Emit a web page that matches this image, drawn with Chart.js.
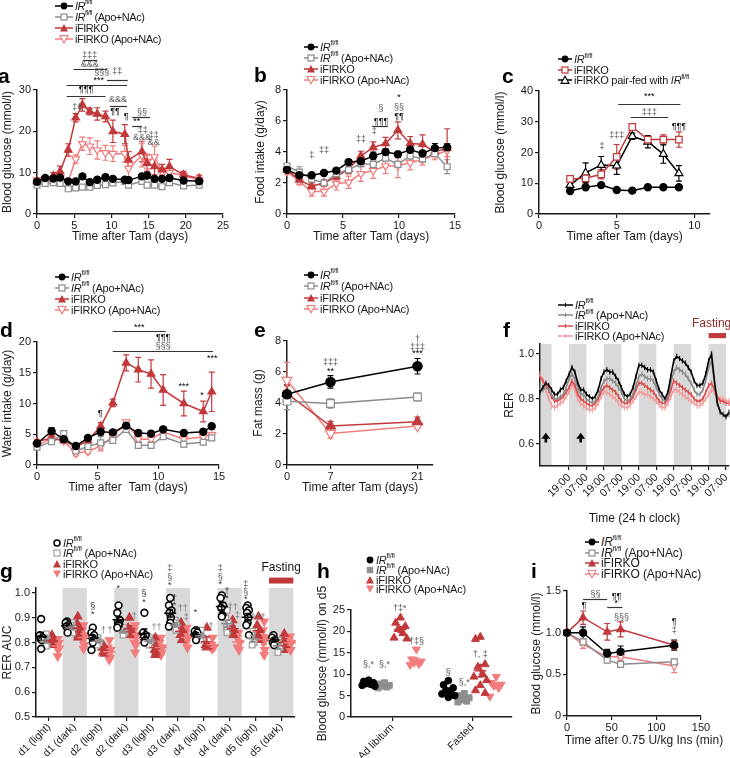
<!DOCTYPE html>
<html>
<head>
<meta charset="utf-8">
<title>Figure</title>
<script src="https://cdn.jsdelivr.net/npm/chart.js@4.4.1/dist/chart.umd.min.js"></script>
<style>
  body { margin: 0; background: #fff; }
  #fig { position: relative; width: 730px; height: 758px; overflow: hidden; background: #fff;
         font-family: 'Liberation Sans', Arial, Helvetica, sans-serif; color: #1a1a1a; }
  #fig canvas { position: absolute; }
  .tag { position: absolute; font-weight: bold; font-size: 21px; line-height: 20px; color: #000; }
  .lg { position: absolute; height: 12px; display: flex; align-items: center; white-space: nowrap; z-index: 2; }
  .lg svg { margin-right: 2px; flex: none; }
  .lg sup { font-size: 7px; line-height: 0; position: relative; top: -1px; vertical-align: super; }
</style>
</head>
<body>
<div id="fig"></div>
<script>
// ---------- a: blood glucose after tamoxifen ----------
const aDays = [0, 1.1, 2.2, 3.1, 4.2, 5.2, 6.1, 7.1, 8.1, 9.2, 10.2, 11.8, 12.3, 14.1, 14.8, 15.8, 16.8, 17.8, 19.7, 21.8];
const aIR = [7.8, 8.7, 8.6, 8.8, 7.9, 7.9, 9.1, 7.7, 8.3, 8.9, 8.5, 8.3, 8.2, 9.1, 9.3, 8.5, 8.5, 8.7, 8.1, 7.9];
const aIRErr = [0.4, 0.4, 0.4, 0.5, 0.4, 0.4, 0.5, 0.4, 0.4, 0.6, 0.4, 0.4, 0.4, 0.5, 0.5, 0.4, 0.4, 0.4, 0.4, 0.4];
const aIRApo = [7.0, 7.4, 7.6, 7.4, 6.1, 6.3, 6.5, 6.5, 6.9, 7.1, 7.5, 7.9, 7.0, 7.9, 7.0, 7.0, 6.6, 7.6, 6.8, 7.0];
const aIRApoErr = [0.3, 0.3, 0.3, 0.3, 0.3, 0.3, 0.3, 0.3, 0.3, 0.3, 0.3, 0.3, 0.3, 0.3, 0.3, 0.3, 0.3, 0.3, 0.3, 0.3];
const aKO = [7.9, 8.5, 9.2, 10.3, 15.5, 23.3, 26.4, 24.8, 24.2, 23.6, 20.0, 19.3, 13.1, 15.1, 12.3, 11.5, 10.7, 11.5, 9.5, 8.6];
const aKOErr = [0.5, 0.6, 0.8, 1.3, 1.5, 1.0, 1.5, 0.8, 1.5, 1.3, 2.7, 2.3, 2.0, 2.5, 2.0, 2.0, 1.3, 1.7, 0.8, 0.8];
const aKOApo = [8.2, 8.3, 8.5, 8.8, 7.9, 13.3, 17.0, 16.4, 15.5, 14.8, 14.6, 14.6, 11.0, 14.2, 12.7, 13.8, 10.2, 10.0, 9.3, 8.2];
const aKOApoErr = [0.4, 0.5, 0.5, 0.6, 0.4, 1.0, 1.6, 2.0, 2.2, 1.8, 1.9, 2.0, 2.0, 2.8, 1.8, 2.6, 0.8, 1.3, 0.8, 0.6];
const aNotes = [
  [7.1, 38.3, '‡‡‡', '#555'], [7.1, 36.2, '&&&', '#555'], [8.7, 34.3, '§§§', '#555'], [10.8, 34.5, '‡‡', '#555'],
  [8.3, 32.3, '***', '#000'], [6.6, 30.0, '¶¶¶', '#000'], [5.4, 25.7, '‡‡', '#555'], [10.9, 27.6, '&&&', '#555'],
  [10.5, 24.7, '¶¶', '#000'], [12.0, 23.5, '¶', '#000'], [14.1, 24.5, '§§', '#555'], [13.4, 22.3, '**', '#000'],
  [14.2, 20.3, '‡‡', '#555'], [14.1, 18.6, '&&&', '#555'], [15.7, 19.1, '‡‡', '#555'], [15.7, 17.4, '&&', '#555']
];
const aLines = [[6.2, 8.1, 37.2], [4.9, 9.4, 35.0], [4.0, 12.1, 31.2], [9.4, 12.2, 32.4], [4.0, 9.2, 28.6],
  [9.8, 12.1, 26.1], [12.8, 15.2, 23.5], [12.8, 14.1, 21.3]];

// ---------- b: food intake ----------
const bDays = [0, 1.1, 2.2, 3.3, 4.4, 5.5, 6.6, 7.7, 8.8, 9.9, 11.0, 12.1, 13.2, 14.3];
const bIR = [2.85, 2.5, 2.5, 2.65, 2.8, 3.35, 3.4, 3.75, 4.0, 3.85, 4.15, 3.9, 4.25, 4.3];
const bIRErr = [0.15, 0.15, 0.12, 0.12, 0.15, 0.15, 0.2, 0.25, 0.2, 0.2, 0.2, 0.2, 0.3, 0.25];
const bIRApo = [3.1, 2.7, 2.25, 2.0, 2.6, 2.85, 3.25, 3.2, 3.6, 3.2, 3.75, 3.55, 3.9, 3.05];
const bIRApoErr = [0.15, 0.35, 0.15, 0.15, 0.25, 0.25, 0.2, 0.2, 0.2, 0.2, 0.2, 0.2, 0.2, 0.45];
const bKO = [2.85, 2.2, 1.8, 2.0, 2.4, 2.9, 3.75, 4.3, 4.55, 5.4, 4.55, 4.5, 4.0, 4.25];
const bKOErr = [0.15, 0.15, 0.2, 0.2, 0.2, 0.3, 0.3, 0.35, 0.4, 0.55, 0.45, 0.6, 0.3, 1.25];
const bKOApo = [2.75, 2.1, 1.45, 1.45, 1.95, 2.05, 2.6, 2.8, 3.1, 3.1, 3.3, 3.5, 3.8, 4.1];
const bKOApoErr = [0.2, 0.2, 0.3, 0.3, 0.4, 0.4, 0.5, 0.5, 0.5, 0.75, 0.45, 0.35, 0.3, 0.4];
const bNotes = [[2.2, 3.8, '‡', '#555'], [3.3, 4.1, '‡‡', '#555'], [6.6, 4.8, '‡‡', '#555'], [7.8, 5.35, '‡', '#555'],
  [8.4, 5.95, '¶¶¶', '#000'], [8.4, 6.8, '§', '#555'], [10.0, 7.5, '*', '#000'], [10.0, 6.85, '§§', '#555'], [10.0, 6.3, '¶¶', '#000']];
const bLines = [[7.6, 9.0, 5.7]];

// ---------- c: pair-feeding ----------
const cDays = [2, 3, 4, 5, 6, 7, 8, 9];
const cIR = [7.5, 8.7, 9.4, 7.8, 7.6, 8.7, 8.7, 8.7];
const cIRErr = [0.5, 0.5, 0.6, 0.4, 0.4, 0.5, 0.5, 0.5];
const cKO = [11.4, 11.6, 12.9, 18.6, 28.3, 24.2, 24.2, 24.2];
const cKOErr = [0.5, 1.5, 1.5, 4.0, 1.0, 1.0, 1.5, 2.5];
const cPair = [9.4, 13.4, 15.9, 15.7, 25.3, 23.5, 19.5, 13.2];
const cPairErr = [1.0, 3.2, 2.8, 2.8, 1.0, 2.0, 3.0, 2.5];
const cNotes = [[7.1, 38.1, '***', '#000'], [7.1, 32.9, '‡‡‡', '#555'], [5.0, 25.6, '‡‡‡', '#555'], [4.05, 21.8, '‡', '#555'], [9.0, 28.6, '¶¶¶', '#000']];
const cLines = [[5.1, 9.1, 35.7], [5.9, 8.3, 31.4]];

// ---------- d: water intake ----------
const dDays = [0, 1.2, 2.2, 3.2, 4.2, 5.25, 6.25, 7.35, 8.35, 9.4, 10.4, 12.1, 13.7, 14.4];
const dIR = [3.5, 5.5, 4.2, 3.1, 4.4, 5.4, 5.3, 6.4, 5.2, 5.1, 5.8, 5.2, 5.4, 6.3];
const dIRErr = [0.4, 0.6, 0.5, 0.4, 0.4, 0.5, 0.4, 0.4, 0.4, 0.4, 0.4, 0.4, 0.4, 0.4];
const dIRApo = [2.9, 3.8, 5.1, 2.3, 3.0, 3.6, 4.0, 5.8, 3.2, 3.2, 4.6, 3.4, 3.7, 4.4];
const dIRApoErr = [0.4, 0.4, 0.5, 0.4, 0.4, 1.0, 0.5, 0.4, 0.4, 0.4, 0.4, 0.4, 0.4, 0.4];
const dKO = [3.8, 4.4, 4.0, 2.9, 4.0, 6.3, 10.1, 16.6, 15.5, 14.8, 12.2, 10.0, 8.7, 11.9];
const dKOErr = [0.3, 0.4, 0.4, 0.3, 0.4, 0.6, 0.6, 1.3, 2.0, 2.3, 2.5, 2.0, 1.7, 3.2];
const dKOApo = [3.2, 4.3, 3.9, 1.9, 2.2, 3.1, 4.6, 7.0, 4.2, 4.2, 5.4, 4.2, 4.6, 4.9];
const dKOApoErr = [0.4, 0.4, 0.4, 0.4, 0.4, 0.8, 0.4, 0.4, 0.4, 0.4, 0.4, 0.4, 0.4, 0.4];
const dNotes = [[8.43, 22.4, '***', '#000'], [10.4, 20.7, '¶¶¶', '#000'], [10.4, 19.2, '§§§', '#555'], [5.2, 8.3, '¶', '#000'],
  [12.1, 12.8, '***', '#000'], [13.6, 11.3, '*', '#000'], [14.45, 17.3, '***', '#000']];
const dLines = [[6.24, 10.6, 21.8], [6.24, 14.5, 18.6]];

// ---------- e: fat mass ----------
const eDays = [0, 7, 21];
const eIR = [4.57, 5.36, 6.37], eIRErr = [0.6, 0.4, 0.5];
const eIRApo = [4.12, 3.97, 4.39], eIRApoErr = [0.55, 0.3, 0.25];
const eKO = [4.61, 2.51, 2.79], eKOErr = [0.5, 0.3, 0.3];
const eKOApo = [5.47, 2.04, 2.51], eKOApoErr = [1.15, 0.3, 0.15];
const eNotes = [[7, 6.6, '‡‡‡', '#555'], [7, 6.05, '**', '#000'], [21, 8.1, '†', '#555'], [21, 7.57, '‡‡‡', '#555'], [21, 7.2, '***', '#000']];

// ---------- f: RER trace, one value every 2 h ----------
const rerIR = [0.83, 0.85, 0.87, 0.86, 0.84, 0.82, 0.82, 0.84, 0.85, 0.88,
  0.91, 0.94, 0.92, 0.87, 0.84, 0.84, 0.82, 0.81, 0.80, 0.81,
  0.84, 0.89, 0.92, 0.93, 0.92, 0.92, 0.90, 0.88, 0.85, 0.82,
  0.81, 0.82, 0.85, 0.90, 0.95, 0.95, 0.94, 0.93, 0.93, 0.92,
  0.88, 0.84, 0.82, 0.80, 0.83, 0.90, 0.97, 0.99, 0.98, 0.97,
  0.96, 0.94, 0.92, 0.88, 0.86, 0.86, 0.87, 0.91, 0.97, 1.00,
  0.88, 0.78, 0.74, 0.73, 0.72, 0.74];
const rerIRApo = [0.85, 0.84, 0.85, 0.84, 0.82, 0.80, 0.80, 0.81, 0.82, 0.85,
  0.89, 0.91, 0.89, 0.85, 0.82, 0.82, 0.80, 0.79, 0.78, 0.79,
  0.81, 0.85, 0.88, 0.89, 0.89, 0.88, 0.87, 0.85, 0.83, 0.80,
  0.79, 0.80, 0.82, 0.86, 0.90, 0.91, 0.90, 0.89, 0.89, 0.88,
  0.85, 0.82, 0.80, 0.79, 0.81, 0.87, 0.92, 0.94, 0.93, 0.92,
  0.91, 0.89, 0.87, 0.84, 0.82, 0.82, 0.84, 0.88, 0.94, 0.97,
  0.87, 0.78, 0.74, 0.73, 0.72, 0.73];
const rerKO = [0.90, 0.88, 0.86, 0.84, 0.81, 0.79, 0.79, 0.80, 0.81, 0.83,
  0.85, 0.88, 0.86, 0.82, 0.80, 0.79, 0.78, 0.77, 0.77, 0.78,
  0.80, 0.83, 0.85, 0.86, 0.85, 0.84, 0.83, 0.81, 0.79, 0.78,
  0.78, 0.79, 0.81, 0.84, 0.87, 0.87, 0.86, 0.85, 0.84, 0.83,
  0.81, 0.79, 0.78, 0.78, 0.80, 0.84, 0.88, 0.87, 0.86, 0.85,
  0.84, 0.83, 0.82, 0.80, 0.79, 0.79, 0.80, 0.83, 0.86, 0.87,
  0.84, 0.81, 0.79, 0.79, 0.78, 0.78];
const rerKOApo = [0.91, 0.88, 0.84, 0.80, 0.77, 0.76, 0.77, 0.78, 0.79, 0.81,
  0.83, 0.87, 0.84, 0.80, 0.78, 0.77, 0.76, 0.75, 0.75, 0.76,
  0.78, 0.81, 0.83, 0.83, 0.82, 0.81, 0.80, 0.78, 0.77, 0.76,
  0.76, 0.77, 0.79, 0.81, 0.83, 0.83, 0.82, 0.82, 0.81, 0.80,
  0.79, 0.77, 0.76, 0.76, 0.78, 0.81, 0.84, 0.84, 0.83, 0.82,
  0.81, 0.80, 0.79, 0.78, 0.77, 0.77, 0.78, 0.80, 0.82, 0.84,
  0.83, 0.81, 0.80, 0.80, 0.79, 0.79];
const rerSem = [0.012, 0.013, 0.012, 0.014];
const fDark = [[0, 8], [20, 32], [44, 56], [68, 80], [92, 104], [116, 128]];
const fTickHours = [20, 32, 44, 56, 68, 80, 92, 104, 116, 128];
const fTickLabels = ['19:00', '07:00', '19:00', '07:00', '19:00', '07:00', '19:00', '07:00', '19:00', '07:00'];
const fArrows = [[4, 0.605, 0.648], [28, 0.605, 0.648]];

// ---------- g: RER AUC per period ----------
const gCats = ['d1 (light)', 'd1 (dark)', 'd2 (light)', 'd2 (dark)', 'd3 (light)', 'd3 (dark)', 'd4 (light)', 'd4 (dark)', 'd5 (light)', 'd5 (dark)'];
const gIR = [[0.895, 0.83, 0.82, 0.815, 0.81, 0.775], [0.885, 0.88, 0.87, 0.865, 0.84], [0.86, 0.84, 0.83, 0.82, 0.81, 0.80, 0.77],
  [0.95, 0.92, 0.89, 0.88, 0.875, 0.87, 0.86], [0.92, 0.84, 0.83, 0.82, 0.81, 0.80], [0.98, 0.95, 0.93, 0.92, 0.90, 0.88, 0.865],
  [0.85, 0.845, 0.84, 0.83, 0.82, 0.81], [0.99, 0.98, 0.95, 0.94, 0.91, 0.905], [0.95, 0.94, 0.93, 0.92, 0.90, 0.88, 0.87, 0.83],
  [0.83, 0.82, 0.81, 0.80, 0.79]];
const gIRApo = [[0.835, 0.82, 0.81, 0.80, 0.79, 0.785], [0.88, 0.87, 0.86, 0.85, 0.84], [0.82, 0.81, 0.80, 0.79],
  [0.86, 0.85, 0.84, 0.83], [0.82, 0.81, 0.80, 0.79], [0.89, 0.88, 0.87, 0.86, 0.85], [0.85, 0.83, 0.82, 0.81],
  [0.93, 0.90, 0.88, 0.86, 0.85, 0.84], [0.845, 0.83, 0.80, 0.79], [0.81, 0.80, 0.78, 0.76]];
const gKO = [[0.83, 0.82, 0.81, 0.80, 0.795, 0.79], [0.905, 0.88, 0.86, 0.85, 0.83, 0.82], [0.79, 0.78, 0.77, 0.76, 0.755],
  [0.90, 0.86, 0.85, 0.84, 0.83], [0.82, 0.80, 0.78, 0.77, 0.76, 0.75], [0.88, 0.86, 0.85, 0.83, 0.81], [0.86, 0.79, 0.785, 0.78],
  [0.89, 0.87, 0.85, 0.84, 0.83], [0.905, 0.87, 0.85, 0.83, 0.82, 0.81], [0.835, 0.81, 0.79, 0.77]];
const gKOApo = [[0.815, 0.81, 0.80, 0.78, 0.77, 0.745], [0.87, 0.85, 0.83, 0.81, 0.79, 0.775], [0.81, 0.78, 0.77, 0.75, 0.74, 0.73],
  [0.87, 0.85, 0.83, 0.80, 0.79, 0.76], [0.82, 0.80, 0.78, 0.77, 0.76, 0.75], [0.86, 0.84, 0.82, 0.80, 0.78], [0.82, 0.79, 0.78, 0.775],
  [0.84, 0.82, 0.80, 0.78, 0.77], [0.885, 0.85, 0.82, 0.80, 0.77, 0.75], [0.825, 0.81, 0.80, 0.79, 0.77]];
const gNotes = [[1.7, 0.945, '§', '#333'], [1.7, 0.915, '*', '#333'], [2.12, 0.848, '†', '#777'], [2.37, 0.848, '†', '#777'],
  [2.69, 1.016, '*', '#333'], [3.31, 0.905, '†', '#777'],
  [3.68, 0.997, '§', '#333'], [3.68, 0.962, '*', '#333'], [4.17, 0.862, '††', '#777'],
  [4.68, 1.097, '‡', '#555'], [4.68, 1.064, '§', '#555'], [4.68, 1.029, '*', '#333'], [4.87, 0.979, '†', '#333'], [4.87, 0.948, '*', '#333'],
  [5.19, 0.939, '††', '#777'], [5.32, 0.902, '‡', '#777'],
  [5.68, 0.921, '*', '#333'], [6.28, 0.864, '†', '#777'],
  [6.64, 1.097, '‡', '#555'], [6.64, 1.064, '§', '#555'], [6.64, 1.033, '*', '#333'], [6.9, 1.006, '†', '#333'], [6.9, 0.979, '*', '#333'],
  [7.12, 0.943, '††', '#777'], [7.3, 0.908, '‡', '#777'],
  [7.63, 1.034, '‡', '#555'], [7.63, 1.0, '§', '#555'], [7.63, 0.973, '*', '#333'], [8.1, 0.9, '†††', '#777']];

// ---------- h: blood glucose on d5 ----------
const hCats = ['Ad libitum', 'Fasted'];
const hIR = [[8.6, 8.3, 8.0, 7.8, 7.6, 7.4, 7.2], [8.5, 7.5, 6.8, 6.2, 5.8, 5.4, 5.0, 4.6]];
const hIRApo = [[8.0, 7.7, 7.4, 7.2, 7.0, 6.8], [5.5, 5.0, 4.5, 4.0, 3.7, 3.5]];
const hKO = [[23.2, 22.0, 21.2, 20.5, 19.6, 18.5, 18.3], [18.7, 18.2, 12.3, 11.7, 10.0, 9.4, 8.6, 7.4, 6.2, 5.6]];
const hKOApo = [[15.8, 13.5, 13.0, 12.7, 12.4, 12.2], [9.4, 8.0, 7.6, 7.3, 6.8, 4.8]];
const hNotes = [[0.7, 12.3, '§,*', '#555'], [0.9, 12.3, '§,*', '#555'], [1.09, 25.4, '†‡*', '#555'], [1.3, 17.6, '†‡§', '#555'],
  [1.7, 10.3, '§', '#555'], [1.9, 8.0, '§,*', '#555'], [2.1, 14.7, '†, ‡', '#555']];

// ---------- i: insulin tolerance ----------
const iMin = [0, 18, 45, 60, 120];
const iIR = [1.0, 1.0, 0.75, 0.77, 0.85], iIRErr = [0, 0.07, 0.05, 0.07, 0.06];
const iIRApo = [1.0, 0.89, 0.67, 0.62, 0.65], iIRApoErr = [0, 0.04, 0.03, 0.03, 0.03];
const iKO = [1.0, 1.18, 1.01, 1.04, 0.85], iKOErr = [0, 0.08, 0.1, 0.09, 0.05];
const iKOApo = [1.0, 0.86, 0.71, 0.71, 0.60], iKOApoErr = [0, 0.05, 0.05, 0.04, 0.08];
const iNotes = [[32, 1.46, '§§', '#555'], [55.5, 1.43, '¶¶', '#000'], [55, 1.35, '*', '#000'], [61, 1.18, '§§§', '#555'],
  [19, 1.32, '¶', '#000'], [120, 1.13, '¶', '#000'], [120, 1.02, '‡', '#555']];
const iLines = [[18, 45, 1.41], [45, 62, 1.31]];

// ---------------------------------------------------------------
const INK = '#1a1a1a';
const BLACK = '#000', GREY = '#8c8c8c', RED = '#c1393b', PINK = '#f27c7c';
const FONT = "'Liberation Sans', Arial, Helvetica, sans-serif";
Chart.defaults.font.family = FONT;
Chart.defaults.color = INK;

const fig = document.getElementById('fig');

const extras = {
  id: 'extras',
  beforeDraw(chart, args, o) {
    const {ctx, chartArea: ca, scales: {x}} = chart;
    ctx.save();
    ctx.fillStyle = '#d9d9d9';
    (o.bands || []).forEach(([x1, x2]) => {
      const p1 = Math.max(x.getPixelForValue(x1), ca.left + 1);
      const p2 = Math.min(x.getPixelForValue(x2), ca.right);
      ctx.fillRect(p1, ca.top, p2 - p1, ca.bottom - ca.top);
    });
    ctx.restore();
  },
  beforeDatasetsDraw(chart) {
    const {ctx, scales: {y}} = chart;
    chart.data.datasets.forEach((ds, i) => {
      if (ds.errs === undefined) return;
      const meta = chart.getDatasetMeta(i);
      const cap = ds.errCap === undefined ? 3 : ds.errCap;
      ctx.save();
      ctx.strokeStyle = ds.errColor || ds.borderColor;
      ctx.lineWidth = ds.errWidth || 1.2;
      ctx.beginPath();
      meta.data.forEach((pt, j) => {
        const e = Array.isArray(ds.errs) ? ds.errs[j] : ds.errs;
        if (!e) return;
        const v = ds.data[j].y;
        const y1 = y.getPixelForValue(v + e), y2 = y.getPixelForValue(v - e);
        ctx.moveTo(pt.x, y1); ctx.lineTo(pt.x, y2);
        if (cap) {
          ctx.moveTo(pt.x - cap, y1); ctx.lineTo(pt.x + cap, y1);
          ctx.moveTo(pt.x - cap, y2); ctx.lineTo(pt.x + cap, y2);
        }
      });
      ctx.stroke();
      ctx.restore();
    });
  },
  afterDatasetsDraw(chart, args, o) {
    const {ctx, scales: {x, y}} = chart;
    (o.means || []).forEach(([xv, m, s, color]) => {
      const px = x.getPixelForValue(xv), w = 6;
      ctx.save();
      ctx.strokeStyle = color; ctx.lineWidth = 1.5;
      ctx.beginPath();
      ctx.moveTo(px - w, y.getPixelForValue(m)); ctx.lineTo(px + w, y.getPixelForValue(m));
      ctx.moveTo(px, y.getPixelForValue(m + s)); ctx.lineTo(px, y.getPixelForValue(m - s));
      ctx.moveTo(px - 3, y.getPixelForValue(m + s)); ctx.lineTo(px + 3, y.getPixelForValue(m + s));
      ctx.moveTo(px - 3, y.getPixelForValue(m - s)); ctx.lineTo(px + 3, y.getPixelForValue(m - s));
      ctx.stroke();
      ctx.restore();
    });
  },
  afterDraw(chart, args, o) {
    const {ctx, chartArea: ca, scales: {x, y}} = chart;
    ctx.save();
    ctx.lineWidth = 1.2;
    ctx.strokeStyle = '#333';
    (o.lines || []).forEach(([x1, x2, yv]) => {
      const py = Math.round(y.getPixelForValue(yv)) + 0.5;
      ctx.beginPath(); ctx.moveTo(x.getPixelForValue(x1), py); ctx.lineTo(x.getPixelForValue(x2), py); ctx.stroke();
    });
    ctx.textAlign = 'center'; ctx.textBaseline = 'middle';
    (o.notes || []).forEach(([xv, yv, t, c]) => {
      ctx.fillStyle = c; ctx.font = '9px ' + FONT;
      ctx.fillText(t, x.getPixelForValue(xv), y.getPixelForValue(yv));
    });
    if (o.fast) {
      const [x1, x2, yTop, yBot, tx, ty, text, tc] = o.fast;
      ctx.fillStyle = '#c0393b';
      const p1 = x.getPixelForValue(x1), p2 = x.getPixelForValue(x2);
      const q1 = y.getPixelForValue(yTop), q2 = y.getPixelForValue(yBot);
      ctx.fillRect(p1, q1, p2 - p1, q2 - q1);
      ctx.fillStyle = tc; ctx.font = '12px ' + FONT;
      ctx.fillText(text, x.getPixelForValue(tx), y.getPixelForValue(ty));
    }
    (o.arrows || []).forEach(([xv, y1, y2]) => {
      const px = x.getPixelForValue(xv), b = y.getPixelForValue(y1), t = y.getPixelForValue(y2);
      ctx.strokeStyle = '#000'; ctx.fillStyle = '#000'; ctx.lineWidth = 2.6;
      ctx.beginPath(); ctx.moveTo(px, b); ctx.lineTo(px, t + 5); ctx.stroke();
      ctx.beginPath(); ctx.moveTo(px, t); ctx.lineTo(px - 4.5, t + 6); ctx.lineTo(px + 4.5, t + 6); ctx.closePath(); ctx.fill();
    });
    if (o.xtitle) {
      // axis title drawn here so it is not squeezed to the axis width
      const [text, size, dy, dx] = o.xtitle;
      ctx.fillStyle = INK; ctx.font = size + 'px ' + FONT;
      ctx.fillText(text, (ca.left + ca.right) / 2 + dx, ca.bottom + dy);
    }
    ctx.restore();
  }
};
Chart.register(extras);

function xAxis(min, max, ticks, title, m, o = {}) {
  return {
    type: 'linear', min, max, bounds: 'data',
    afterBuildTicks: s => { s.ticks = ticks.map(v => ({value: v})); },
    afterFit: s => { s.height = m.xH; s.paddingLeft = 0; s.paddingRight = 0; },
    grid: {drawOnChartArea: false, drawTicks: true, tickLength: 4, color: INK, lineWidth: 1.2},
    border: {display: true, color: INK, width: 1.5},
    ticks: {padding: o.tp === undefined ? 1 : o.tp, autoSkip: false, maxRotation: o.rot || 0, minRotation: o.rot || 0,
            callback: o.cb || (v => v), font: {size: o.fs || 11}, color: INK},
    title: {display: !!title, text: title, font: {size: o.ts || 12}, padding: {top: 0, bottom: 0}, color: INK}
  };
}
function yAxis(min, max, ticks, title, m, cb) {
  return {
    type: 'linear', min, max, bounds: 'data',
    afterBuildTicks: s => { s.ticks = ticks.map(v => ({value: v})); },
    afterFit: s => { s.width = m.yW; s.paddingTop = 0; s.paddingBottom = 0; },
    grid: {drawOnChartArea: false, drawTicks: true, tickLength: 4, color: INK, lineWidth: 1.2},
    border: {display: true, color: INK, width: 1.5},
    ticks: {padding: 2, autoSkip: false, callback: cb || (v => v), font: {size: 11}, color: INK},
    title: {display: true, text: title, font: {size: 12}, padding: {top: 0, bottom: 0}, color: INK}
  };
}
function make(area, m, type, datasets, xs, ys, extra) {
  const c = document.createElement('canvas');
  const w = area.r - area.l + m.yW + m.pr, h = area.b - area.t + m.pt + m.xH;
  c.width = w; c.height = h;
  c.style.left = (area.l - m.yW) + 'px'; c.style.top = (area.t - m.pt) + 'px';
  fig.appendChild(c);
  return new Chart(c, {
    type, data: {datasets},
    options: {
      responsive: false, animation: false, events: [],
      layout: {padding: {top: m.pt, right: m.pr, left: 0, bottom: 0}},
      scales: {x: xs, y: ys},
      plugins: {legend: {display: false}, tooltip: {enabled: false}, extras: extra || {}}
    }
  });
}
function series(xs, ys, errs, color, style) {
  return Object.assign({
    data: xs.map((x, i) => ({x, y: ys[i]})), errs,
    borderColor: color, backgroundColor: color, pointBackgroundColor: color, pointBorderColor: color,
    borderWidth: 1.5, pointRadius: 3.6, pointBorderWidth: 1.2, pointStyle: 'circle', clip: false
  }, style);
}
const OPEN = '#fff';
function four(xs, k, ka, r, ra, ek, eka, rr, rra, sz) {
  const s = sz || 1;
  return [
    series(xs, k, ek, BLACK, {pointRadius: 3.6 * s}),
    series(xs, ka, eka, GREY, {pointStyle: 'rect', pointBackgroundColor: OPEN, pointRadius: 4.2 * s}),
    series(xs, r, rr, RED, {pointStyle: 'triangle', pointRadius: 4.4 * s}),
    series(xs, ra, rra, PINK, {pointStyle: 'triangle', pointRotation: 180, pointBackgroundColor: OPEN, pointRadius: 4.4 * s})
  ];
}
const mean = a => a.reduce((s, v) => s + v, 0) / a.length;
const sem = a => { const mm = mean(a); return Math.sqrt(a.reduce((s, v) => s + (v - mm) ** 2, 0) / (a.length - 1) / a.length); };
function dots(groups, off, jit) {
  const pts = [];
  groups.forEach((vals, i) => vals.forEach((v, k) => pts.push({x: i + off + jit[k % jit.length], y: v})));
  return pts;
}
function dotMeans(groups, off, color, out, base) {
  groups.forEach((vals, i) => out.push([base + i + off, mean(vals), sem(vals), color]));
}

// ---------- legends ----------
function sym(kind, color, w, line) {
  const c = w / 2;
  let s = `<svg width="${w}" height="10">`;
  if (line) s += `<line x1="0" y1="5" x2="${w}" y2="5" stroke="${color}" stroke-width="1.5"/>`;
  if (kind === 'dot') s += `<circle cx="${c}" cy="5" r="3.4" fill="${color}"/>`;
  if (kind === 'ring') s += `<circle cx="${c}" cy="5" r="3" fill="#fff" stroke="${color}" stroke-width="1.5"/>`;
  if (kind === 'sq') s += `<rect x="${c - 3}" y="2" width="6" height="6" fill="#fff" stroke="${color}" stroke-width="1.2"/>`;
  if (kind === 'sqf') s += `<rect x="${c - 3.2}" y="1.8" width="6.4" height="6.4" fill="${color}"/>`;
  if (kind === 'tri') s += `<polygon points="${c},1 ${c + 4},8.5 ${c - 4},8.5" fill="${color}"/>`;
  if (kind === 'trio') s += `<polygon points="${c},1.2 ${c + 4},8.4 ${c - 4},8.4" fill="#fff" stroke="${color}" stroke-width="1.1"/>`;
  if (kind === 'inv') s += `<polygon points="${c - 4},1.5 ${c + 4},1.5 ${c},8.8" fill="#fff" stroke="${color}" stroke-width="1.1"/>`;
  if (kind === 'invf') s += `<polygon points="${c - 4},1.5 ${c + 4},1.5 ${c},8.8" fill="${color}"/>`;
  if (kind === 'tick') s += `<line x1="${c}" y1="3" x2="${c}" y2="7" stroke="${color}" stroke-width="1"/>`;
  return s + '</svg>';
}
function legend(x, y0, dy, w, size, ls, items) {
  items.forEach(([kind, color, line, html], i) => {
    const d = document.createElement('div');
    d.className = 'lg';
    d.style.left = x + 'px'; d.style.top = (y0 + i * dy - 6) + 'px';
    d.style.fontSize = size + 'px'; d.style.letterSpacing = ls + 'px';
    d.innerHTML = sym(kind, color, w, line) + '<span>' + html + '</span>';
    fig.appendChild(d);
  });
}
function tag(t, x, top) {
  const d = document.createElement('div');
  d.className = 'tag'; d.style.left = x + 'px'; d.style.top = top + 'px'; d.textContent = t;
  fig.appendChild(d);
}
const IRT = '<i>IR</i><sup>fl/fl</sup>';
const std4 = [['dot', BLACK, true, IRT], ['sq', GREY, true, IRT + ' (Apo+NAc)'], ['tri', RED, true, 'iFIRKO'], ['inv', PINK, true, 'iFIRKO (Apo+NAc)']];

// ---------- panel a ----------
{
  const m = {yW: 37, xH: 30, pt: 45, pr: 8};
  make({l: 37, t: 90, r: 223, b: 214}, m, 'line',
    four(aDays, aIR, aIRApo, aKO, aKOApo, aIRErr, aIRApoErr, aKOErr, aKOApoErr),
    xAxis(0, 25, [0, 5, 10, 15, 20, 25], 'Time after Tam (days)', m),
    yAxis(0, 30, [0, 10, 20, 30], 'Blood glucose (mmol/l)', m),
    {notes: aNotes, lines: aLines});
  legend(55, 5.5, 11, 18, 11, -0.45, std4);
  tag('a', -2, 66);
}
// ---------- panel b ----------
{
  const m = {yW: 34, xH: 30, pt: 35, pr: 10};
  make({l: 287, t: 90, r: 455, b: 214}, m, 'line',
    four(bDays, bIR, bIRApo, bKO, bKOApo, bIRErr, bIRApoErr, bKOErr, bKOApoErr),
    xAxis(0, 15, [0, 5, 10, 15], 'Time after Tam (days)', m),
    yAxis(0, 8, [0, 2, 4, 6, 8], 'Food intake (g/day)', m),
    {notes: bNotes, lines: bLines});
  legend(304, 46.7, 11, 14, 11, -0.25, std4);
  tag('b', 254, 65);
}
// ---------- panel c ----------
{
  const m = {yW: 46, xH: 30, pt: 35, pr: 12};
  make({l: 539, t: 91, r: 710, b: 214}, m, 'line', [
      series(cDays, cIR, cIRErr, BLACK, {}),
      series(cDays, cKO, cKOErr, RED, {pointStyle: 'rect', pointBackgroundColor: OPEN, pointRadius: 4.6}),
      series(cDays, cPair, cPairErr, BLACK, {pointStyle: 'triangle', pointBackgroundColor: OPEN, pointRadius: 4.6})
    ],
    xAxis(0, 11, [0, 5, 10], 'Time after Tam (days)', m),
    yAxis(0, 40, [0, 10, 20, 30, 40], 'Blood glucose (mmol/l)', m),
    {notes: cNotes, lines: cLines});
  legend(558, 59.3, 10.5, 14, 11, -0.25, [['dot', BLACK, true, IRT], ['sq', RED, true, 'iFIRKO'], ['trio', BLACK, true, 'iFIRKO pair-fed with ' + IRT]]);
  tag('c', 502, 66);
}
// ---------- panel d ----------
{
  const m = {yW: 37, xH: 30, pt: 25, pr: 8};
  make({l: 37, t: 342, r: 219, b: 465}, m, 'line',
    four(dDays, dIR, dIRApo, dKO, dKOApo, dIRErr, dIRApoErr, dKOErr, dKOApoErr),
    xAxis(0, 15, [0, 5, 10, 15], 'Time after  Tam (days)', m),
    yAxis(0, 20, [0, 5, 10, 15, 20], 'Water intake (g/day)', m),
    {notes: dNotes, lines: dLines});
  legend(55, 276.7, 11, 14, 11, -0.25, std4);
  tag('d', 0, 320);
}
// ---------- panel e ----------
{
  const m = {yW: 36, xH: 30, pt: 10, pr: 8};
  make({l: 287, t: 341, r: 433, b: 465}, m, 'line',
    four(eDays, eIR, eIRApo, eKO, eKOApo, eIRErr, eIRApoErr, eKOErr, eKOApoErr, 1.3),
    xAxis(0, 23.5, [0, 7, 21], 'Time after Tam (days)', m),
    yAxis(0, 8, [0, 2, 4, 6, 8], 'Fat mass (g)', m),
    {notes: eNotes});
  legend(304, 275, 11.4, 14, 11, -0.25, std4);
  tag('e', 254, 320);
}
// ---------- panel f ----------
{
  const m = {yW: 38, xH: 60, pt: 30, pr: 1};
  const hrs = rerIR.map((_, i) => i * 2);
  const trace = (vals, err, color, w) => series(hrs, vals, err, color,
    {pointRadius: 0, borderWidth: w, errCap: 0, errWidth: 1, clip: true});
  make({l: 540, t: 344, r: 729, b: 466}, m, 'line', [
      trace(rerIR, rerSem[0], BLACK, 1.6),
      trace(rerIRApo, rerSem[1], '#8a8a8a', 1.6),
      trace(rerKO, rerSem[2], '#dc4b4b', 1.6),
      trace(rerKOApo, rerSem[3], '#f59a9a', 1.6)
    ],
    xAxis(0, 130, fTickHours, 'Time (24 h clock)', m, {rot: 45, cb: v => fTickLabels[fTickHours.indexOf(v)]}),
    yAxis(0.5, 1.045, [0.6, 0.8, 1.0], 'RER', m, v => v.toFixed(1)),
    {bands: fDark, arrows: fArrows, fast: [116, 128, 1.094, 1.071, 118, 1.134, 'Fasting', '#8b2a2a']});
  legend(558, 305, 10.4, 15, 11, -0.25, [['tick', BLACK, true, IRT], ['tick', '#8a8a8a', true, IRT + ' (Apo+NAc)'],
    ['tick', '#dc4b4b', true, 'iFIRKO'], ['tick', '#f59a9a', true, 'iFIRKO (Apo+NAc)']]);
  tag('f', 503, 320);
}
// ---------- panel g ----------
{
  const m = {yW: 36, xH: 41, pt: 30, pr: 5};
  const off = [-0.3, -0.1, 0.12, 0.34], jit = [0, -0.05, 0.05, -0.025, 0.025];
  const means = [];
  dotMeans(gIR, off[0], BLACK, means, 0); dotMeans(gIRApo, off[1], GREY, means, 0);
  dotMeans(gKO, off[2], RED, means, 0); dotMeans(gKOApo, off[3], PINK, means, 0);
  const dset = (groups, o, color, st) => Object.assign({data: dots(groups, o, jit), borderColor: color, backgroundColor: color,
    pointBorderColor: color, pointBackgroundColor: color, pointBorderWidth: 1.3, clip: false}, st);
  make({l: 36, t: 588, r: 295, b: 717}, m, 'scatter', [
      dset(gIR, off[0], BLACK, {pointStyle: 'circle', pointRadius: 3.4, pointBackgroundColor: OPEN, pointBorderWidth: 1.6}),
      dset(gIRApo, off[1], '#a0a0a0', {pointStyle: 'rect', pointRadius: 4, pointBackgroundColor: OPEN}),
      dset(gKO, off[2], RED, {pointStyle: 'triangle', pointRadius: 4.6}),
      dset(gKOApo, off[3], PINK, {pointStyle: 'triangle', pointRotation: 180, pointRadius: 4.6})
    ],
    xAxis(-0.5, 9.5, gCats.map((_, i) => i), '', m, {rot: 45, tp: 0, fs: 10.5, cb: v => gCats[v]}),
    yAxis(0.5, 1.02, [0.5, 0.6, 0.7, 0.8, 0.9, 1.0], 'RER AUC', m, v => v.toFixed(1)),
    {bands: [[0.53, 1.47], [2.53, 3.47], [4.53, 5.47], [6.53, 7.47], [8.53, 9.47]], notes: gNotes, means,
     fast: [8.53, 9.47, 1.062, 1.038, 9, 1.1, 'Fasting', '#111']});
  legend(53, 542.7, 10.4, 8, 11, -0.2, [['ring', BLACK, false, IRT], ['sq', '#a0a0a0', false, IRT + ' (Apo+NAc)'],
    ['tri', RED, false, 'iFIRKO'], ['invf', PINK, false, 'iFIRKO (Apo+NAc)']]);
  tag('g', 0, 561);
}
// ---------- panel h ----------
{
  const m = {yW: 36, xH: 41, pt: 46, pr: 5};
  const off = [-0.3, -0.1, 0.1, 0.3], jit = [0, -0.06, 0.06, -0.03, 0.03, -0.08, 0.08];
  const means = [];
  dotMeans(hIR, off[0], BLACK, means, 1); dotMeans(hIRApo, off[1], GREY, means, 1);
  dotMeans(hKO, off[2], RED, means, 1); dotMeans(hKOApo, off[3], PINK, means, 1);
  const dset = (groups, o, color, st) => Object.assign({data: dots(groups, o + 1, jit), borderColor: color, backgroundColor: color,
    pointBorderColor: color, pointBackgroundColor: color, pointBorderWidth: 1, clip: false}, st);
  make({l: 351, t: 610, r: 512, b: 717}, m, 'scatter', [
      dset(hIR, off[0], BLACK, {pointStyle: 'circle', pointRadius: 3.4}),
      dset(hIRApo, off[1], '#8f8f8f', {pointStyle: 'rect', pointRadius: 4.2}),
      dset(hKO, off[2], RED, {pointStyle: 'triangle', pointRadius: 4.6}),
      dset(hKOApo, off[3], PINK, {pointStyle: 'triangle', pointRotation: 180, pointRadius: 4.6})
    ],
    xAxis(0.48, 2.49, [1, 2], '', m, {rot: 45, tp: 0, fs: 10.5, cb: v => hCats[v - 1]}),
    yAxis(0, 25, [0, 5, 10, 15, 20, 25], 'Blood glucose (mmol/l) on d5', m),
    {notes: hNotes, means});
  legend(366, 560, 9.8, 8, 11, -0.2, [['dot', BLACK, false, IRT], ['sqf', '#8f8f8f', false, IRT + ' (Apo+NAc)'],
    ['tri', RED, false, 'iFIRKO'], ['invf', PINK, false, 'iFIRKO (Apo+NAc)']]);
  tag('h', 317, 561);
}
// ---------- panel i ----------
{
  const m = {yW: 38, xH: 32, pt: 10, pr: 29};
  make({l: 567, t: 591, r: 701, b: 716}, m, 'line',
    four(iMin, iIR, iIRApo, iKO, iKOApo, iIRErr, iIRApoErr, iKOErr, iKOApoErr),
    xAxis(0, 150, [0, 50, 100, 150], '', m),
    yAxis(0, 1.5, [0, 0.5, 1, 1.5], 'Blood glucose (mmol/l)', m, v => (v === 0 ? '0' : v.toFixed(1))),
    {notes: iNotes, lines: iLines, xtitle: ['Time after 0.75 U/kg Ins (min)', 12, 24.5, 10]});
  legend(585, 541.7, 10.8, 14, 12, -0.1, std4);
  tag('i', 531, 561);
}
</script>
</body>
</html>
